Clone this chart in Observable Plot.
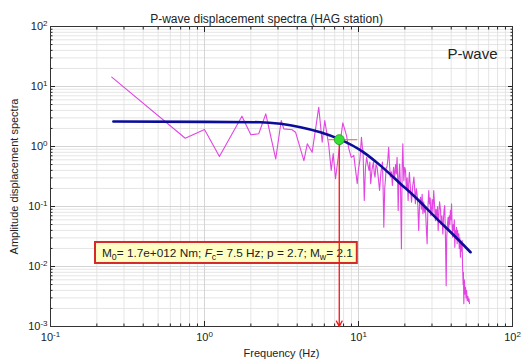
<!DOCTYPE html>
<html><head><meta charset="utf-8">
<script src="https://cdn.jsdelivr.net/npm/d3@7"></script>
<script src="https://cdn.jsdelivr.net/npm/@observablehq/plot@0.6"></script>
<style>body{margin:0;background:#fff} #chart svg{display:block}</style>
</head><body><div id="chart"></div>
<script>
const titleText = "P-wave displacement spectra (HAG station)";
const waveLabel = "P-wave";
const xLabel = "Frequency (Hz)";
const yLabel = "Amplitude displacement spectra";
const xTicks = [0.1, 1, 10, 100];
const yTicks = [0.001, 0.01, 0.1, 1, 10, 100];

// observed P-wave displacement spectrum, low band (Hz, amplitude)
const specFreqLow = [0.25, 0.75, 1.0, 1.25, 1.75, 2.0, 2.25, 2.5, 2.9, 3.15, 3.27, 3.71, 3.9, 4.42, 4.65, 5.0, 5.52, 5.81, 6.04, 6.41, 6.65, 6.85, 7.09, 7.45, 7.91, 8.36, 8.65, 8.97, 9.32];
const specAmpLow = [14.3, 1.37, 1.92, 0.68, 3.2, 1.57, 1.63, 3.5, 0.62, 2.71, 1.97, 1.90, 1.73, 0.58, 1.11, 0.80, 4.52, 1.18, 2.71, 1.04, 0.40, 0.76, 0.29, 0.80, 2.48, 1.52, 0.92, 0.66, 0.71];
// high band
const specFreqHigh = [9.81, 10.0, 10.2, 10.45, 10.6, 10.7, 10.9, 11.1, 11.3, 11.5, 11.7, 11.85, 12.0, 12.25, 12.5, 12.65, 12.8, 13.0, 13.2, 13.45, 13.7, 14.0, 14.3, 14.45, 14.6, 14.8, 15.0, 15.15, 15.3, 15.5, 15.7, 15.9, 16.1, 16.35, 16.6, 16.75, 16.9, 17.15, 17.4, 17.6, 17.8, 17.95, 18.1, 18.3, 18.5, 18.75, 19.0, 19.2, 19.4, 19.55, 19.7, 19.95, 20.2, 20.45, 20.7, 21.0, 21.2, 21.4, 21.75, 22.1, 22.5, 22.9, 23.15, 23.4, 23.7, 24.0, 24.3, 24.6, 24.95, 25.3, 25.6, 25.9, 26.2, 26.5, 26.8, 27.2, 27.5, 27.9, 28.2, 28.6, 28.9, 29.2, 29.5, 29.8, 30.1, 30.4, 30.8, 31.2, 31.6, 31.9, 32.3, 32.6, 32.9, 33.2, 33.6, 34.1, 34.4, 34.8, 35.3, 35.6, 36.0, 36.3, 36.7, 37.1, 37.4, 37.8, 38.2, 38.5, 38.9, 39.2, 39.5, 39.8, 40.2, 40.5, 40.9, 41.2, 41.6, 41.9, 42.2, 42.6, 43.0, 43.3, 43.7, 44.0, 44.4, 44.8, 45.1, 45.5, 45.9, 46.2, 46.6, 47.1, 47.4, 47.8, 48.0, 48.3, 48.7, 49.1, 49.5, 49.9, 50.3, 50.8, 51.3, 51.8, 52.2, 52.6];
const specAmpHigh = [0.24, 0.42, 0.58, 1.43, 0.95, 0.86, 0.126, 0.45, 0.66, 0.5, 0.40, 0.55, 0.24, 0.42, 0.55, 0.36, 0.31, 0.5, 0.45, 0.3, 0.185, 0.38, 0.55, 0.2, 0.045, 0.2, 0.31, 0.45, 0.45, 0.6, 0.97, 0.5, 0.31, 0.38, 0.224, 0.35, 0.45, 0.3, 0.5, 0.35, 0.66, 0.3, 0.086, 0.3, 0.51, 0.2, 0.0197, 0.4, 1.11, 0.5, 0.27, 0.45, 0.40, 0.2, 0.3, 0.126, 0.25, 0.37, 0.2, 0.118, 0.22, 0.31, 0.2, 0.111, 0.2, 0.163, 0.1, 0.040, 0.12, 0.143, 0.09, 0.16, 0.0755, 0.12, 0.08, 0.097, 0.05, 0.0239, 0.09, 0.185, 0.11, 0.14, 0.07, 0.0916, 0.13, 0.08, 0.185, 0.1, 0.058, 0.09, 0.06, 0.1, 0.040, 0.07, 0.12, 0.086, 0.05, 0.07, 0.035, 0.06, 0.09, 0.104, 0.03, 0.0048, 0.03, 0.05, 0.066, 0.04, 0.07, 0.05, 0.086, 0.06, 0.111, 0.05, 0.0308, 0.05, 0.04, 0.06, 0.021, 0.04, 0.03, 0.045, 0.0239, 0.04, 0.028, 0.035, 0.02, 0.03, 0.0143, 0.025, 0.018, 0.0271, 0.01, 0.005, 0.008, 0.0024, 0.006, 0.0035, 0.0045, 0.003, 0.004, 0.0027, 0.0032, 0.0026, 0.0029, 0.0024];

// fitted source model
const modelFreq = [0.256, 1.0, 2.31, 3.12, 4.2, 5.66, 7.45, 10.8, 13.9, 18.7, 23.4, 31.6, 42.7, 53.4];
const modelAmp = [2.61, 2.57, 2.54, 2.39, 2.10, 1.73, 1.34, 0.80, 0.48, 0.24, 0.143, 0.066, 0.031, 0.0173];

// corner frequency marker
const cornerFreq = [7.5];
const cornerAmp = [1.3];
const cornerLow = [6.4];
const cornerHigh = [9.9];
const arrowEndAmp = [0.001];

// annotation
const annM0 = "1.7e+012";
const annFc = "7.5";
const annP = "2.7";
const annMw = "2.1";
const boxFreq = 0.196;
const boxAmp = 0.0168;

const minorX = xTicks.slice(0, -1).flatMap(d => d3.range(2, 10).map(k => d * k));
const minorY = yTicks.slice(0, -1).flatMap(d => d3.range(2, 10).map(k => d * k));
const fmt = d => `10^${Math.round(Math.log10(d))}`;
const blank = () => "";

const specFreq = specFreqLow.concat(specFreqHigh);
const specAmp = specAmpLow.concat(specAmpHigh);
const spec = specFreq.map((f, i) => ({f, a: specAmp[i]}));
const model = modelFreq.map((f, i) => ({f, a: modelAmp[i]}));
const corner = cornerFreq.map((f, i) => ({f, a: cornerAmp[i], lo: cornerLow[i], hi: cornerHigh[i], end: arrowEndAmp[i]}));

const chart = Plot.plot({
  width: 525, height: 362,
  marginTop: 26, marginRight: 13, marginBottom: 36, marginLeft: 50,
  style: {fontFamily: "'Liberation Sans', Arial, sans-serif", fontSize: "11px", background: "#fff", color: "#222"},
  x: {type: "log", domain: [0.1, 100]},
  y: {type: "log", domain: [0.001, 100]},
  marks: [
    Plot.ruleX(minorX, {stroke: "#dedede", strokeWidth: 0.8}),
    Plot.ruleY(minorY, {stroke: "#dedede", strokeWidth: 0.8}),
    Plot.ruleX(xTicks, {stroke: "#d0d0d0", strokeWidth: 0.9}),
    Plot.ruleY(yTicks, {stroke: "#d0d0d0", strokeWidth: 0.9}),
    Plot.axisX(xTicks, {anchor: "bottom", tickSize: 0, tickPadding: 7, tickFormat: fmt, label: xLabel, labelAnchor: "center", labelOffset: 30, labelArrow: "none"}),
    Plot.axisY(yTicks, {anchor: "left", tickSize: 0, tickPadding: 3, tickFormat: fmt, label: yLabel, labelAnchor: "center", labelOffset: 40, labelArrow: "none"}),
    Plot.axisX(xTicks, {anchor: "bottom", tickSize: -5, tickFormat: blank, label: null}),
    Plot.axisX(minorX, {anchor: "bottom", tickSize: -2.5, tickFormat: blank, label: null}),
    Plot.axisX(xTicks, {anchor: "top", tickSize: -5, tickFormat: blank, label: null}),
    Plot.axisX(minorX, {anchor: "top", tickSize: -2.5, tickFormat: blank, label: null}),
    Plot.axisY(yTicks, {anchor: "left", tickSize: -5, tickFormat: blank, label: null}),
    Plot.axisY(minorY, {anchor: "left", tickSize: -2.5, tickFormat: blank, label: null}),
    Plot.axisY(yTicks, {anchor: "right", tickSize: -5, tickFormat: blank, label: null}),
    Plot.axisY(minorY, {anchor: "right", tickSize: -2.5, tickFormat: blank, label: null}),
    Plot.frame({stroke: "#333", strokeWidth: 1}),
    Plot.line(spec, {x: "f", y: "a", stroke: "#e245e2", strokeWidth: 1.1}),
    Plot.line(model, {x: "f", y: "a", stroke: "#0c0c9a", strokeWidth: 2.6, curve: "monotone-x"}),
    Plot.ruleY(corner, {y: "a", x1: "lo", x2: "hi", stroke: "#f07a50", strokeWidth: 1.2}),
    Plot.arrow(corner, {x1: "f", y1: "a", x2: "f", y2: "end", stroke: "#ff1010", strokeWidth: 1.3, headLength: 7, headAngle: 55}),
    Plot.dot(corner, {x: "f", y: "a", r: 5, fill: "#33e033", stroke: "#1c9a1c", strokeWidth: 0.8}),
    Plot.text([titleText], {frameAnchor: "top", dx: -15, dy: -12, fontSize: 12}),
    Plot.text([waveLabel], {frameAnchor: "top-right", dx: -15, dy: 22, fontSize: 15})
  ]
});
document.getElementById("chart").appendChild(chart);

// superscript exponents on the tick labels
d3.select(chart).selectAll('[aria-label="x-axis tick label"] text, [aria-label="y-axis tick label"] text').each(function() {
  const s = this.textContent;
  if (!s.includes("^")) return;
  const [base, exp] = s.split("^");
  const t = d3.select(this);
  t.text(base);
  t.append("tspan").attr("dy", "-0.5em").attr("font-size", "8px").text(exp);
});

// annotation box with subscripts
const xs = chart.scale("x"), ys = chart.scale("y");
const svg = d3.select(chart);
const g = svg.insert("g", '[aria-label="arrow"]');
const rect = g.append("rect");
const bx = xs.apply(boxFreq), by = ys.apply(boxAmp);
const t = g.append("text").attr("x", bx + 7).attr("y", by).attr("dy", "0.36em")
  .attr("text-anchor", "start").attr("font-size", "11.8px").attr("fill", "#222");
const sub = (s) => { t.append("tspan").attr("dy", "3").attr("font-size", "8.8px").text(s); };
const back = (s) => { t.append("tspan").attr("dy", "-3").text(s); };
t.append("tspan").text("M");
sub("0");
back(`= ${annM0} Nm; `);
t.append("tspan").attr("font-style", "italic").text("F");
sub("c");
back(`= ${annFc} Hz; p = ${annP}; M`);
sub("w");
back(`= ${annMw}`);
const bb = t.node().getBBox();
rect.attr("x", bx).attr("y", by - 10.5).attr("width", bb.width + 11).attr("height", 21)
  .attr("fill", "#ffffc4").attr("stroke", "#d42a2a").attr("stroke-width", 2);
</script>
</body></html>
